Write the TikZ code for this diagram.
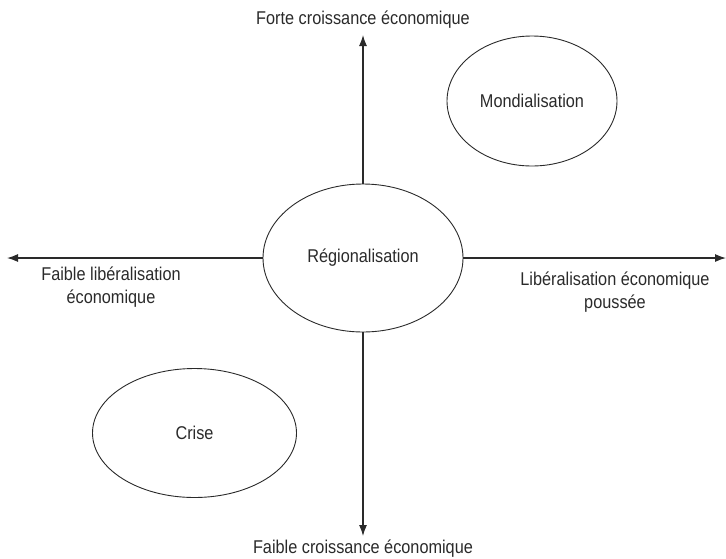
\documentclass[tikz,border=0pt]{standalone}
\usepackage{fontspec}
\setmainfont[FakeStretch=0.88]{Liberation Sans}
\usetikzlibrary{shapes.geometric,arrows.meta}
\definecolor{ink}{HTML}{2A2A2A}
\tikzset{
  oval/.style={ellipse,draw=ink,line width=0.9pt,inner sep=0pt,text=ink},
  axis/.style={draw=ink,line width=1.2pt,-{Latex[length=11pt,width=8pt]}},
  lab/.style={text=ink,align=center,inner sep=0pt},
}
\begin{document}
\begin{tikzpicture}[x=1pt,y=-1pt,font=\fontsize{18.5}{22.5}\selectfont]
\useasboundingbox (0,0) rectangle (726,558);
\node[oval,minimum width=200pt,minimum height=148pt] (reg) at (363,258) {Régionalisation};
\node[oval,minimum width=170pt,minimum height=130pt] (mon) at (532,101) {Mondialisation};
\node[oval,minimum width=204pt,minimum height=129pt] (cri) at (194.5,433) {Crise};
\coordinate (top) at (363,35);
\coordinate (bot) at (363,536);
\coordinate (lft) at (7,258);
\coordinate (rgt) at (726,258);
\draw[axis] (reg.north) -- (top);
\draw[axis] (reg.south) -- (bot);
\draw[axis] (reg.west) -- (lft);
\draw[axis] (reg.east) -- (rgt);
\node[lab] (ltop) at (363,20) {Forte croissance économique};
\node[lab] (lbot) at (363,549) {Faible croissance économique};
\node[lab] (llft) at (111,287) {Faible libéralisation\\économique};
\node[lab] (lrgt) at (615,292) {Libéralisation économique\\poussée};
\end{tikzpicture}
\end{document}
